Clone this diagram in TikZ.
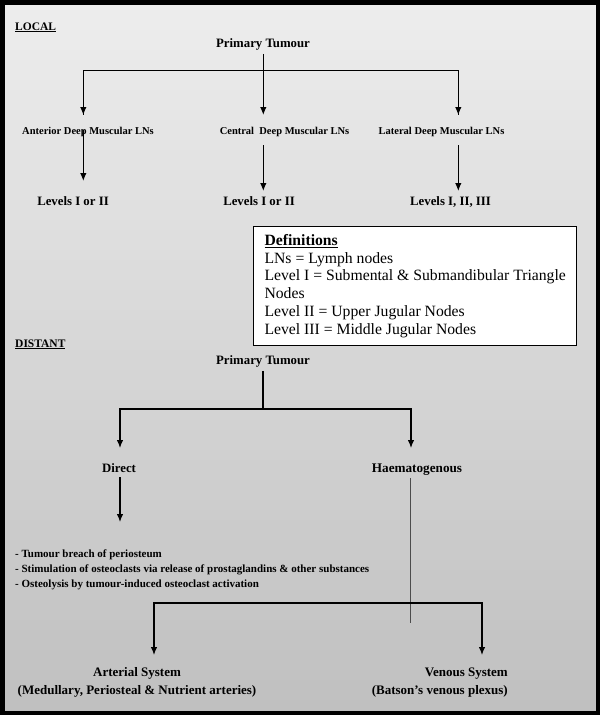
\documentclass[tikz,border=0pt]{standalone}
\usepackage{fontspec}
\setmainfont{Liberation Serif}
\usepackage{tikz}
\usetikzlibrary{arrows.meta}
\usetikzlibrary{positioning}
\definecolor{bgtop}{rgb}{0.93, 0.93, 0.93}
\definecolor{bgbottom}{rgb}{0.75, 0.75, 0.75}
\tikzset{flow/.style = {-{Latex[length=8pt, width=6.5pt]}, line width=1.2pt},
         link/.style = {line width=1.2pt},
         faint/.style = {line width=0.9pt, black!70},
         head/.style = {font=\bfseries\fontsize{11.5}{14}\selectfont, anchor=base west, inner sep=0pt},
         big/.style = {font=\bfseries\fontsize{12.8}{15}\selectfont, anchor=base, inner sep=0pt},
         small/.style = {font=\bfseries\fontsize{10.5}{12}\selectfont, anchor=base, inner sep=0pt}}

\begin{document}
\begin{tikzpicture}[x=1pt, y=-1pt]
    \useasboundingbox (0, 0) rectangle (600, 715);
    \foreach \i [evaluate=\i as \p using \i*100/71] in {0,...,71}
        \fill [bgbottom!\p!bgtop] (0, \i*10) rectangle (600, \i*10+10.5);
    \draw [line width=4.5pt] (2.25, 2.25) rectangle (597.75, 712.75);

    % local spread
    \node [head] (local) at (15, 30) {\underline{LOCAL}};
    \node [big] (tumour1) at (263, 47) {Primary Tumour};
    \node [small] (ant) at (88, 134) {Anterior Deep Muscular LNs};
    \node [small] (cen) at (284.5, 134) {Central\ \ Deep Muscular LNs};
    \node [small] (lat) at (441.5, 134) {Lateral Deep Muscular LNs};
    \node [big] (lev1) at (73, 205) {Levels I or II};
    \node [big] (lev2) at (259, 205) {Levels I or II};
    \node [big] (lev3) at (450.5, 205) {Levels I, II, III};

    \coordinate (split1) at (263, 70.5);
    \coordinate (ant in) at (83.3, 115);
    \coordinate (cen in) at (263.3, 115);
    \coordinate (lat in) at (458.3, 115);
    \draw [link] (split1) -| (ant in);
    \draw [link] (split1) -| (lat in);
    \draw [flow] (tumour1.south -| cen in) ++(0, 4) -- (cen in);
    \draw [flow] (83.3, 90) -- (ant in);
    \draw [flow] (458.3, 90) -- (lat in);
    \draw [flow] (ant.base -| ant in) ++(0, -4) -- (83.3, 181);
    \draw [flow] (cen.base -| cen in) ++(0, 11) -- (263.3, 191);
    \draw [flow] (lat.base -| lat in) ++(0, 11) -- (458.3, 191);

    % definitions
    \node [draw, line width=1.1pt, fill=white, anchor=north west,
           minimum height=119pt, inner xsep=11pt, align=left,
           font=\fontsize{15.7}{17.8}\selectfont] (defs) at (253, 226)
          {\underline{\textbf{Definitions}}\\
           LNs = Lymph nodes\\
           Level I = Submental \& Submandibular Triangle\\
           Nodes\\
           Level II = Upper Jugular Nodes\\
           Level III = Middle Jugular Nodes};

    % distant spread
    \node [head] (distant) at (15, 347) {\underline{DISTANT}};
    \node [big] (tumour2) at (263, 364) {Primary Tumour};
    \node [big] (direct) at (119, 472) {Direct};
    \node [big, font=\bfseries\fontsize{13.2}{15}\selectfont] (haem) at (417, 472) {Haematogenous};
    \node [anchor=base west, inner sep=0pt, align=left,
           font=\bfseries\fontsize{11}{14.7}\selectfont] (modes) at (15, 587)
          {- Tumour breach of periosteum\\
           - Stimulation of osteoclasts via release of prostaglandins \& other substances\\
           - Osteolysis by tumour-induced osteoclast activation};
    \node [anchor=base, inner sep=0pt, align=center,
           font=\bfseries\fontsize{13}{18}\selectfont] (art) at (137, 694)
          {Arterial System\\(Medullary, Periosteal \& Nutrient arteries)};
    \node [anchor=base east, inner sep=0pt, align=right,
           font=\bfseries\fontsize{13}{18}\selectfont] (ven) at (508, 694)
          {Venous System\\(Batson’s venous plexus)};

    \coordinate (split2) at (263, 409);
    \coordinate (direct in) at (120, 448);
    \coordinate (haem in) at (411, 448);
    \draw [link] (tumour2.south) ++(0, 4) -- (split2);
    \draw [flow] (split2) -| (direct in);
    \draw [flow] (split2) -| (haem in);
    \draw [flow] (direct.base -| direct in) ++(0, 5) -- (120, 522);

    \coordinate (split3) at (410, 603);
    \coordinate (art in) at (154, 655);
    \coordinate (ven in) at (482, 655);
    \draw [faint] (haem.base -| split3) ++(0, 6) -- (410, 623);
    \draw [flow] (split3) -| (art in);
    \draw [flow] (split3) -| (ven in);
\end{tikzpicture}
\end{document}
